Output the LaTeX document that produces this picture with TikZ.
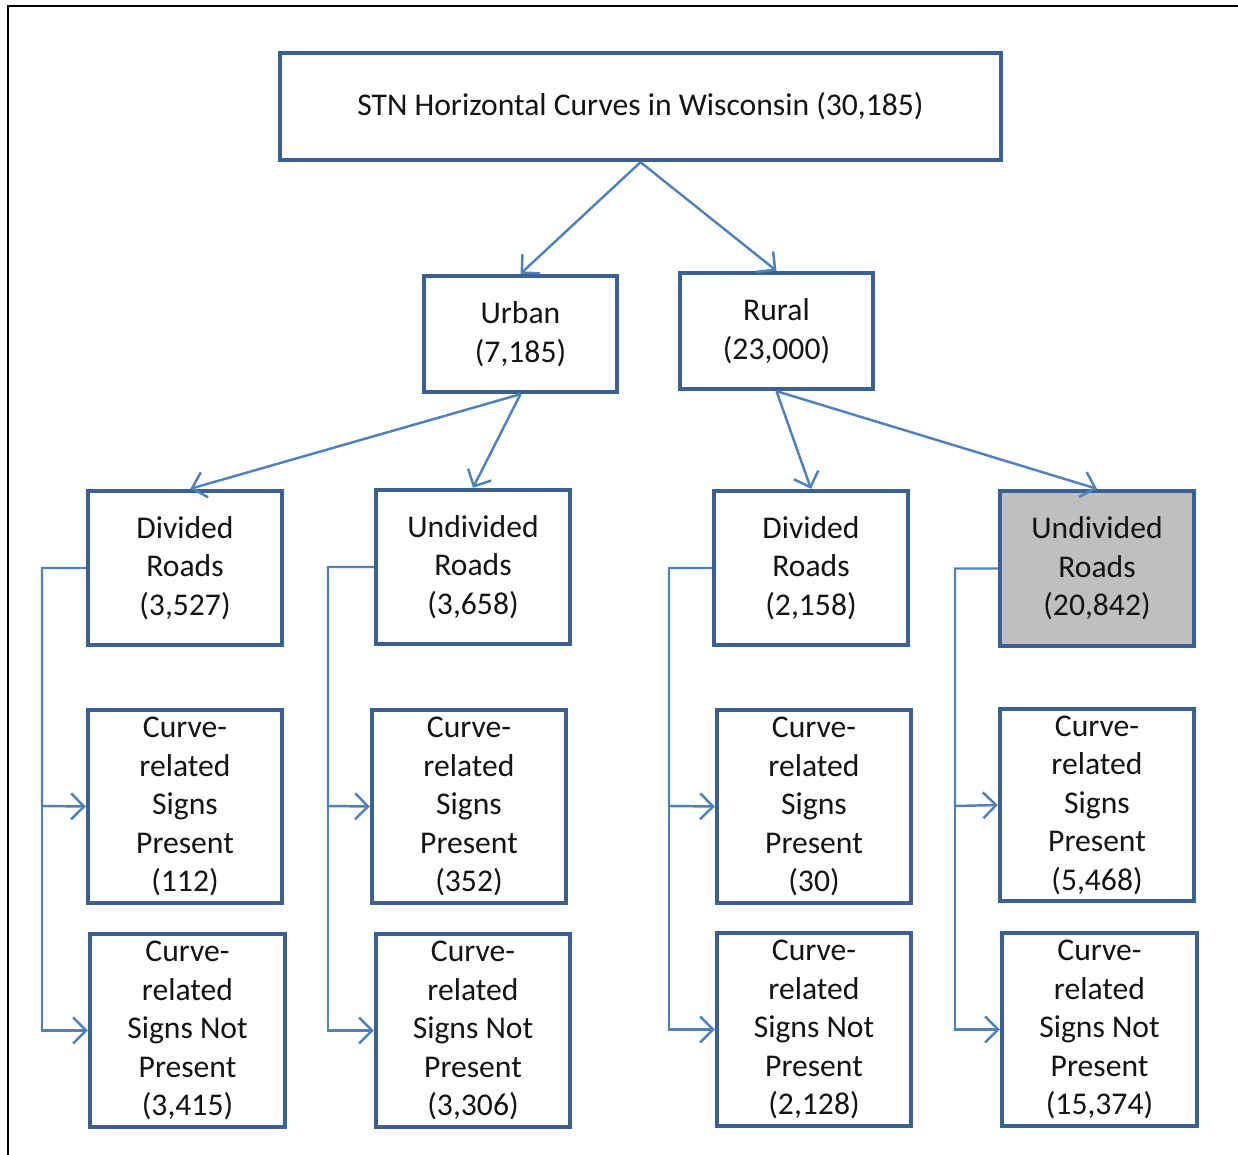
\documentclass[tikz,border=0pt]{standalone}
\usepackage{fontspec}
\setmainfont{Carlito}
\usepackage{xcolor}
\usepackage{tikz}
\usetikzlibrary{arrows.meta,positioning}
\definecolor{boxblue}{HTML}{3B6194}
\definecolor{linkblue}{HTML}{4F81BD}
\definecolor{fillgray}{HTML}{BFBFBF}
\definecolor{inkblack}{HTML}{141414}
\tikzset{
  catbox/.style={draw=boxblue,line width=2.5pt,fill=white,inner sep=2pt,align=center,text=inkblack,
    font=\fontsize{18}{21.9}\selectfont},
  shadebox/.style={catbox,fill=fillgray},
  flowarrow/.style={-{Straight Barb[length=2.6mm,width=5.2mm,line width=1.4pt]},draw=linkblue,line width=1.4pt},
  brackline/.style={flowarrow,rounded corners=0pt},
}
\begin{document}
\begin{tikzpicture}[x=0.02cm,y=-0.02cm]
        \useasboundingbox (0,0) rectangle (1238,1155);
        \draw[line width=1.7pt,black] (8,1155) -- (8,6) -- (1238,6);
        % top level
        \node[catbox,minimum width=14.42cm,minimum height=2.14cm] (all) at (640.5,106.5) {STN Horizontal Curves in Wisconsin (30,185)};
        \node[catbox,minimum width=3.86cm,minimum height=2.32cm] (urban) at (520.5,334) {Urban\\(7,185)};
        \node[catbox,minimum width=3.86cm,minimum height=2.32cm] (rural) at (776.5,331) {Rural\\(23,000)};
        % road types
        \node[catbox,minimum width=3.88cm,minimum height=3.08cm] (udiv) at (185,568) {Divided\\Roads\\(3,527)};
        \node[catbox,minimum width=3.88cm,minimum height=3.08cm] (uund) at (473,567) {Undivided\\Roads\\(3,658)};
        \node[catbox,minimum width=3.88cm,minimum height=3.08cm] (rdiv) at (811,568) {Divided\\Roads\\(2,158)};
        \node[shadebox,minimum width=3.88cm,minimum height=3.10cm] (rund) at (1097,568.5) {Undivided\\Roads\\(20,842)};
        % signs present
        \node[catbox,minimum width=3.88cm,minimum height=3.86cm] (udivp) at (185,806.5) {Curve-\\related\\Signs\\Present\\(112)};
        \node[catbox,minimum width=3.88cm,minimum height=3.86cm] (uundp) at (469,806.5) {Curve-\\related\\Signs\\Present\\(352)};
        \node[catbox,minimum width=3.88cm,minimum height=3.86cm] (rdivp) at (814,806.5) {Curve-\\related\\Signs\\Present\\(30)};
        \node[catbox,minimum width=3.88cm,minimum height=3.84cm] (rundp) at (1097,805) {Curve-\\related\\Signs\\Present\\(5,468)};
        % signs not present
        \node[catbox,minimum width=3.90cm,minimum height=3.86cm] (udivn) at (187.5,1030.5) {Curve-\\related\\Signs Not\\Present\\(3,415)};
        \node[catbox,minimum width=3.88cm,minimum height=3.86cm] (uundn) at (473,1030.5) {Curve-\\related\\Signs Not\\Present\\(3,306)};
        \node[catbox,minimum width=3.88cm,minimum height=3.86cm] (rdivn) at (814,1029.5) {Curve-\\related\\Signs Not\\Present\\(2,128)};
        \node[catbox,minimum width=3.90cm,minimum height=3.86cm] (rundn) at (1099.5,1029.5) {Curve-\\related\\Signs Not\\Present\\(15,374)};
        % tree links
        \draw[flowarrow] (all.south) -- (urban.north);
        \draw[flowarrow] (all.south) -- (rural.north);
        \draw[flowarrow] (urban.south) -- ([xshift=3]udiv.north);
        \draw[flowarrow] (urban.south) -- (uund.north);
        \draw[flowarrow] (rural.south) -- (rdiv.north);
        \draw[flowarrow] (rural.south) -- (rund.north);
        % brackets to sign boxes
        \foreach \src/\pres/\nopr/\bx in {udiv/udivp/udivn/42,uund/uundp/uundn/328,rdiv/rdivp/rdivn/669,rund/rundp/rundn/955}{
          \draw[brackline] (\src.west) -| (\bx,806) -- (\pres.west);
          \draw[brackline] (\bx,806) |- (\nopr.west);
        }
      \end{tikzpicture}
\end{document}
